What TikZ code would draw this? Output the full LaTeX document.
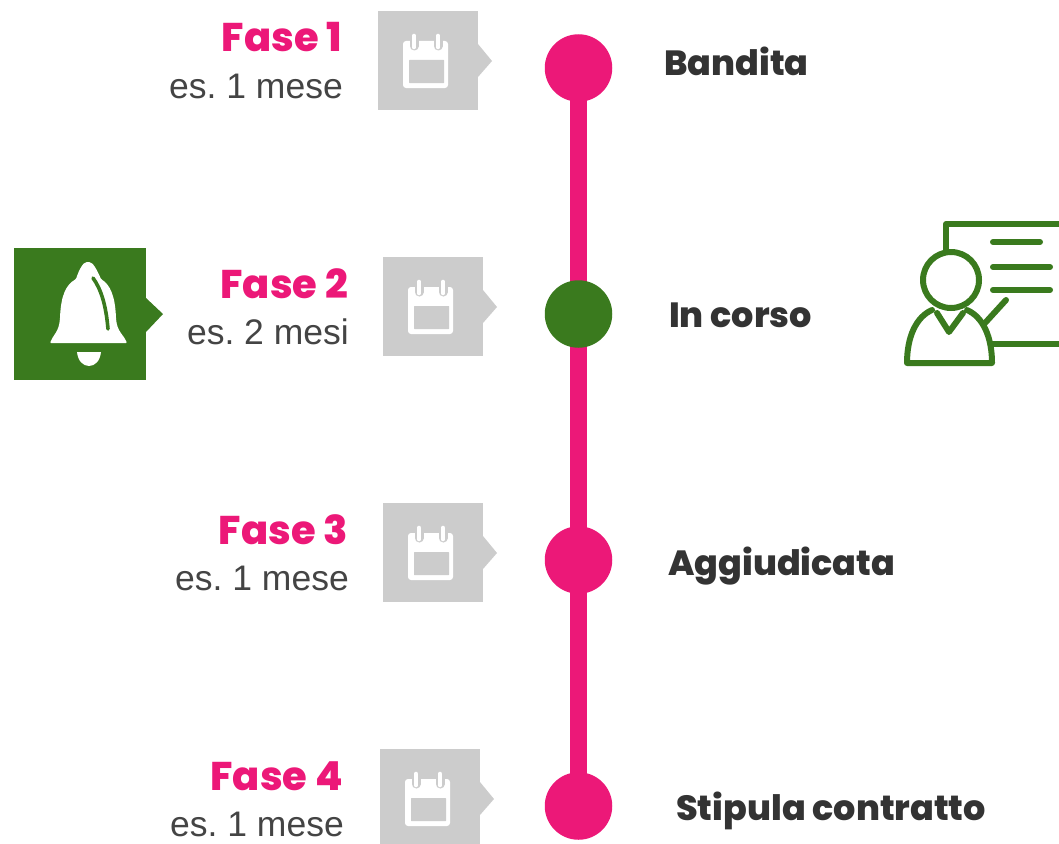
\documentclass[tikz,border=0pt]{standalone}
\usepackage{fontspec}
\setmainfont{Liberation Sans}
\newfontfamily\heavy{Poppins}[UprightFont=* Bold,BoldFont=* ExtraBold]
\definecolor{pinkc}{HTML}{EC1878}
\definecolor{greenc}{HTML}{3A7A1E}
\definecolor{grayc}{HTML}{CCCCCC}
\definecolor{darkt}{HTML}{444444}
\definecolor{titlet}{HTML}{333333}
\tikzset{
  stop/.style={circle,minimum size=67.5pt,inner sep=0pt,fill=#1},
  spine/.style={line width=17pt,draw=pinkc},
  fase/.style={anchor=base east,inner sep=0pt,text=pinkc,font=\heavy\bfseries\fontsize{40}{40}\selectfont},
  dura/.style={anchor=base east,inner sep=0pt,text=darkt,font=\frenchspacing\fontsize{35.5}{36}\selectfont},
  titolo/.style={anchor=base west,inner sep=0pt,text=titlet,font=\heavy\bfseries\fontsize{35}{36}\selectfont},
  callbox/.style={anchor=north west,minimum width=100pt,minimum height=99pt,inner sep=0pt,fill=grayc},
  icon/.style={draw=greenc,line width=6pt,line cap=round,line join=round}
}
\newcommand{\calbox}[3]{%
  \node[callbox] (#1) at (#2,#3) {};
  \fill[grayc] (#2+100,#3+33) -- (#2+114,#3+50) -- (#2+100,#3+66) -- cycle;
  \fill[white,rounded corners=3pt] (#2+25,#3+30) rectangle (#2+70,#3+77);
  \fill[grayc,rounded corners=0.5pt] (#2+31,#3+49) rectangle (#2+66,#3+72);
  \foreach \rx in {36,60}{
    \draw[grayc,line width=9pt,line cap=round] (#2+\rx,#3+25) -- (#2+\rx,#3+35);
    \draw[white,line width=4.6pt,line cap=round] (#2+\rx,#3+25) -- (#2+\rx,#3+36);
  }
}
\begin{document}
\begin{tikzpicture}[x=1pt,y=-1pt]
\useasboundingbox (0,0) rectangle (1059,843);
\clip (0,0) rectangle (1059,843);
\coordinate (p1) at (578.5,68);
\coordinate (p2) at (578.5,314);
\coordinate (p3) at (578.5,560);
\coordinate (p4) at (578.5,806);
\draw[spine] (p1) -- (p2);
\draw[spine] (p2) -- (p3);
\draw[spine] (p3) -- (p4);
\node[stop=pinkc] (m1) at (p1) {};
\node[stop=greenc] (m2) at (p2) {};
\node[stop=pinkc] (m3) at (p3) {};
\node[stop=pinkc] (m4) at (p4) {};
\calbox{c1}{378}{11}
\calbox{c2}{383}{257}
\calbox{c3}{383}{503}
\calbox{c4}{380}{749}
\node[fase] (f1) at (342,52) {Fase 1};
\node[dura] (d1) at (343,98) {es. 1 mese};
\node[fase] (f2) at (348,298) {Fase 2};
\node[dura] (d2) at (349,344) {es. 2 mesi};
\node[fase] (f3) at (348,544) {Fase 3};
\node[dura] (d3) at (349,590) {es. 1 mese};
\node[fase] (f4) at (343,790) {Fase 4};
\node[dura] (d4) at (344,836) {es. 1 mese};
\node[titolo] (t1) at (664,75) {Bandita};
\node[titolo] (t2) at (669,327) {In corso};
\node[titolo] (t3) at (668,575) {Aggiudicata};
\node[titolo] (t4) at (676,820) {Stipula contratto};
% bell box
\node[anchor=north west,minimum width=132pt,minimum height=132pt,inner sep=0pt,fill=greenc] (bellbox) at (14,248) {};
\fill[greenc] (146,298) -- (163,314) -- (146,332) -- cycle;
\fill[white,rounded corners=1pt] (50,343) .. controls (53,335) and (59,332) .. (60,318)
  .. controls (61,295) and (66,285) .. (76,279)
  .. controls (79,270) and (83,262) .. (88,262)
  .. controls (93,262) and (97,270) .. (101,279)
  .. controls (110,285) and (115,295) .. (116,318)
  .. controls (117,332) and (124,335) .. (127,343) -- cycle;
\draw[greenc,line width=3.6pt,line cap=round] (93,278) .. controls (101,289) and (106,305) .. (108,329);
\fill[white] (77,352) -- (101,352) .. controls (100,361) and (95,366) .. (89,366) .. controls (83,366) and (78,361) .. (77,352) -- cycle;
% presenter icon
\draw[icon,line cap=butt] (946,250) -- (946,224) -- (1062,224);
\draw[icon] (993,242) -- (1040,242);
\draw[icon] (993,267) -- (1050,267);
\draw[icon] (993,290) -- (1050,290);
\draw[icon] (985,323) -- (1006,300);
\draw[icon,line cap=butt] (992,344) -- (1062,344);
\node[circle,icon,minimum size=56pt,inner sep=0pt] (head) at (951,280) {};
\draw[icon] (932,310) .. controls (916,317) and (907,337) .. (907,363) -- (992,363) .. controls (992,337) and (983,317) .. (967,310);
\draw[icon] (937,313) -- (949,332) -- (963,313);
\end{tikzpicture}
\end{document}
